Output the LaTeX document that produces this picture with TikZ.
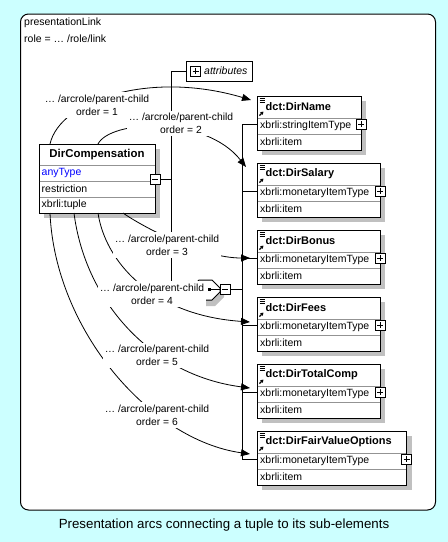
\documentclass[tikz,border=0pt]{standalone}
\usepackage{fontspec}
\setmainfont{Liberation Sans}
\usetikzlibrary{arrows.meta,calc}
\definecolor{bgcyan}{RGB}{204,255,255}
\definecolor{shadegray}{RGB}{192,192,192}
\definecolor{typeblue}{RGB}{0,0,255}

\newcommand\plusicon[2]{%
  \draw[fill=white,line width=0.8pt] (#1-5,#2-5) rectangle (#1+5,#2+5);
  \draw[line width=0.8pt] (#1-3,#2) -- (#1+3,#2) (#1,#2-3) -- (#1,#2+3);
}
\newcommand\minusicon[2]{%
  \draw[fill=white,line width=0.8pt] (#1-5,#2-5) rectangle (#1+5,#2+5);
  \draw[line width=0.8pt] (#1-3,#2) -- (#1+3,#2);
}
\newcommand\childbox[5]{% name, top, right, title, type
  \fill[shadegray] (262,#2+5) rectangle (#3+5,#2+59);
  \draw[boxframe] (257,#2) rectangle (#3,#2+54);
  \draw[rowsep] (257.5,#2+22) -- (#3-0.5,#2+22);
  \draw[rowsep] (257.5,#2+38) -- (#3-0.5,#2+38);
  \draw[line width=0.7pt] (259.5,#2+2.5) -- (264.5,#2+2.5) (259.5,#2+4.5) -- (264.5,#2+4.5) (259.5,#2+6.5) -- (264.5,#2+6.5);
  \draw[line width=1.2pt,-{Triangle[length=3pt,width=3.5pt]}] (259.5,#2+19.5) -- (263.5,#2+15.5);
  \node[hdr,anchor=west] (#1-h) at (265.5,#2+11) {#4};
  \node[txt,anchor=west] (#1-t) at (260,#2+30) {#5};
  \node[txt,anchor=west] (#1-b) at (260,#2+46) {xbrli:item};
  \plusicon{#3}{#2+28}
  \coordinate (#1-in) at (257,#2+28);
  \coordinate (#1-bus) at (242.5,#2+28);
}

\begin{document}
\begin{tikzpicture}[x=1pt,y=-1pt,
  txt/.style={inner sep=0pt,font=\fontsize{10.5}{12.6}\selectfont},
  lbl/.style={fill=white,inner xsep=1.5pt,inner ysep=2.5pt,align=center,font=\fontsize{10.3}{13}\selectfont},
  hdr/.style={inner sep=0pt,font=\fontsize{11}{13}\selectfont\bfseries},
  relarc/.style={line width=0.8pt,-{Triangle[length=9pt,width=7pt]}},
  wire/.style={line width=1pt},
  rowsep/.style={draw=gray!85,line width=0.8pt},
  boxframe/.style={draw=black,line width=1pt,fill=white},
]
\useasboundingbox (0,0) rectangle (448,542);
\fill[bgcyan] (0,0) rectangle (448,542);
\draw[fill=white,line width=1pt,rounded corners=8pt] (20.5,14) rectangle (435.5,510);

\node[txt,anchor=west] (title1) at (24,23) {presentationLink};
\node[txt,anchor=west] (title2) at (24,39) {role = … /role/link};

\node[inner sep=0pt,font=\fontsize{13.3}{15}\selectfont] (caption) at (224,525) {Presentation arcs connecting a tuple to its sub-elements};

% attributes box
\node[draw,line width=1pt,fill=white,minimum width=66pt,minimum height=20pt,inner sep=0pt] (attr) at (219,71) {};
\plusicon{195.5}{71}
\node[txt,anchor=west,font=\fontsize{10.5}{12.6}\selectfont\itshape] (attrtxt) at (204,71) {attributes};

% child boxes
\childbox{c1}{96}{361}{dct:DirName}{xbrli:stringItemType}
\childbox{c2}{163}{380}{dct:DirSalary}{xbrli:monetaryItemType}
\childbox{c3}{230}{380}{dct:DirBonus}{xbrli:monetaryItemType}
\childbox{c4}{297}{380}{dct:DirFees}{xbrli:monetaryItemType}
\childbox{c5}{364}{380}{dct:DirTotalComp}{xbrli:monetaryItemType}
\childbox{c6}{431}{406.5}{dct:DirFairValueOptions}{xbrli:monetaryItemType}

% compositor (sequence)
\coordinate (seqL) at (192,290);
\coordinate (seqM) at (225,289);
\fill[shadegray] (198,284) -- (216,284) -- (224,292) -- (224,297) -- (215,306) -- (198,306) -- cycle;
\draw[boxframe] (199,280) -- (212,280) -- (220,288) -- (220,292) -- (212,300) -- (199,300) -- (192,293) -- (192,287) -- cycle;
\fill (207.5,287.5) rectangle (210.5,290.5);
\draw[wire] (210.5,289) -- (220,289);
\minusicon{225}{289}

% bus
\draw[wire] (c1-in) -- (c1-bus) -- (c6-bus) -- (c6-in);
\foreach \n in {c2,c3,c4,c5} \draw[wire] (\n-bus) -- (\n-in);
\draw[wire] (seqM) ++(5,0) -- (242.5,289);

% DirCompensation
\fill[shadegray] (44,149) rectangle (160,218);
\draw[boxframe] (39,144) rectangle (155,213);
\draw[rowsep] (39.5,165) -- (154.5,165);
\draw[rowsep] (39.5,181) -- (154.5,181);
\draw[rowsep] (39.5,197) -- (154.5,197);
\node[inner sep=0pt,font=\fontsize{11.4}{13}\selectfont\bfseries] (dc) at (97,155) {DirCompensation};
\node[txt,anchor=west,text=typeblue] (dc1) at (41.5,173) {anyType};
\node[txt,anchor=west] (dc2) at (41.5,189) {restriction};
\node[txt,anchor=west] (dc3) at (41.5,205) {xbrli:tuple};
\minusicon{155}{179}
\coordinate (dcM) at (160,179);

% attributes / sequence spine
\draw[wire] (attr.west) -- (171,71) -- (171,290) -- (seqL);
\draw[wire] (dcM) -- (171,179);

% arcs
\coordinate (s1) at (50,144);
\coordinate (s2) at (98,144);
\coordinate (s3) at (123,213);
\coordinate (s4) at (98,213);
\coordinate (s5) at (74,213);
\coordinate (s6) at (50,213);
\coordinate (t1) at (251,100);
\coordinate (t2) at (246,167);
\coordinate (t3) at (250,258);
\coordinate (t4) at (250,322);
\coordinate (t5) at (250,388);
\coordinate (t6) at (250,454);
\draw[relarc] (s1) .. controls (60,100) and (150,70) .. (t1);
\draw[relarc] (s2) .. controls (110,120) and (205,115) .. (t2);
\draw[relarc] (s3) .. controls (140,225) and (200,258) .. (t3);
\draw[relarc] (s4) .. controls (105,260) and (150,315) .. (t4);
\draw[relarc] (s5) .. controls (85,300) and (150,375) .. (t5);
\draw[relarc] (s6) .. controls (55,330) and (150,440) .. (t6);

% labels
\node[lbl] (l1) at (97,105) {… /arcrole/parent-child\\order = 1};
\node[lbl] (l2) at (181,123.5) {… /arcrole/parent-child\\order = 2};
\node[lbl] (l3) at (167,245) {… /arcrole/parent-child\\order = 3};
\node[lbl] (l4) at (152,294) {… /arcrole/parent-child\\order = 4};
\node[lbl] (l5) at (157,355.5) {… /arcrole/parent-child\\order = 5};
\node[lbl] (l6) at (157,415) {… /arcrole/parent-child\\order = 6};
\end{tikzpicture}
\end{document}
